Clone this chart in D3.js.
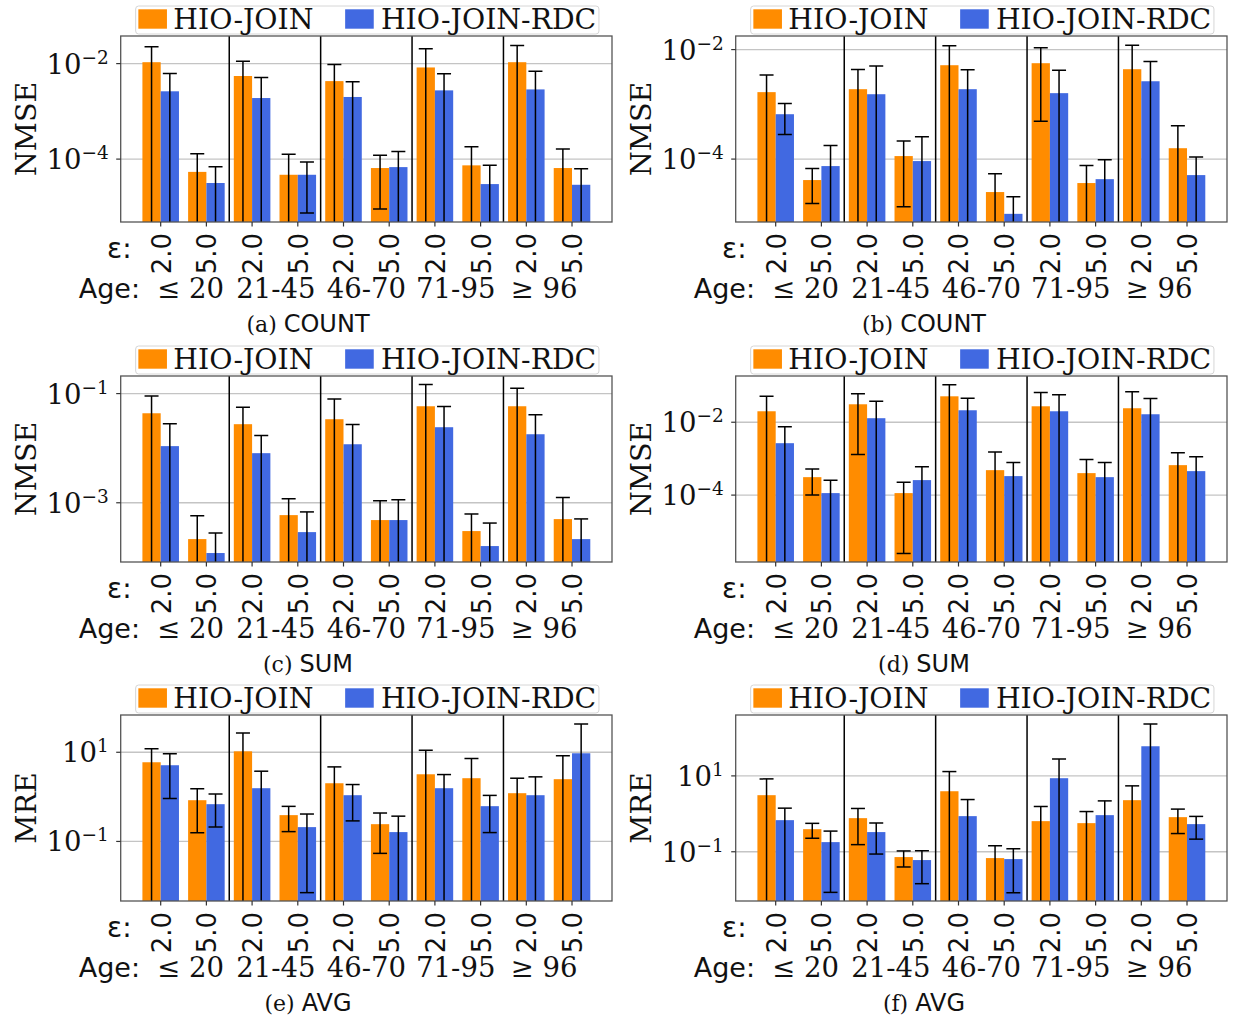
<!DOCTYPE html>
<html>
<head>
<meta charset="utf-8">
<script src="https://cdn.jsdelivr.net/npm/d3@7"></script>
<style>
  body { margin: 0; background: #fff; }
  svg { display: block; }
</style>
</head>
<body>
<svg id="fig" width="1233" height="1021"></svg>
<script>
// ---- categories ----
const ageGroups = ["≤ 20", "21-45", "46-70", "71-95", "≥ 96"];
const epsilons = ["2.0", "5.0"];
const seriesNames = ["HIO-JOIN", "HIO-JOIN-RDC"];

// ---- values: one entry per (age group, epsilon) pair, means and standard deviations ----
// (a) COUNT, NMSE
const joinA    = [1.07e-2, 5.4e-5, 5.5e-3, 4.7e-5, 4.3e-3, 6.5e-5, 8.3e-3, 7.4e-5, 1.07e-2, 6.5e-5];
const joinAStd = [1.19e-2, 7.5e-5, 5.7e-3, 7.9e-5, 5.3e-3, 5.6e-5, 1.21e-2, 1.08e-4, 1.33e-2, 9.8e-5];
const rdcA     = [2.63e-3, 3.16e-5, 1.9e-3, 4.7e-5, 2.0e-3, 6.8e-5, 2.75e-3, 3.0e-5, 2.88e-3, 2.9e-5];
const rdcAStd  = [3.54e-3, 3.76e-5, 3.2e-3, 3.96e-5, 2.17e-3, 7.7e-5, 3.4e-3, 4.4e-5, 4.0e-3, 3.4e-5];
// (b) COUNT, NMSE
const joinB    = [1.67e-3, 4.14e-5, 1.89e-3, 1.135e-4, 5.18e-3, 2.5e-5, 5.64e-3, 3.65e-5, 4.38e-3, 1.58e-4];
const joinBStd = [1.78e-3, 2.6e-5, 2.42e-3, 1.0e-4, 6.6e-3, 2.9e-5, 5.15e-3, 4.0e-5, 7.6e-3, 2.48e-4];
const rdcB     = [6.6e-4, 7.45e-5, 1.53e-3, 9.2e-5, 1.89e-3, 1.0e-5, 1.6e-3, 4.3e-5, 2.64e-3, 5.1e-5];
const rdcBStd  = [3.8e-4, 1.03e-4, 3.5e-3, 1.64e-4, 2.4e-3, 1.05e-5, 2.6e-3, 5.4e-5, 3.4e-3, 5.8e-5];
// (c) SUM, NMSE
const joinC    = [0.0436, 2.16e-4, 0.0275, 5.94e-4, 0.0339, 4.82e-4, 0.0586, 3.03e-4, 0.0586, 5.02e-4];
const joinCStd = [0.047, 3.6e-4, 0.0285, 5.9e-4, 0.046, 6.1e-4, 0.088, 3.2e-4, 0.067, 7.5e-4];
const rdcC     = [0.0109, 1.2e-4, 8.1e-3, 2.9e-4, 0.0118, 4.82e-4, 0.0242, 1.61e-4, 0.018, 2.16e-4];
const rdcCStd  = [0.017, 1.6e-4, 8.9e-3, 3.9e-4, 0.0153, 6.5e-4, 0.034, 2.64e-4, 0.023, 2.9e-4];
// (d) SUM, NMSE
const joinD    = [0.02, 3.11e-4, 0.0311, 1.135e-4, 0.0515, 4.84e-4, 0.0274, 4.01e-4, 0.0242, 6.64e-4];
const joinDStd = [0.0315, 2.1e-4, 0.0298, 1.11e-4, 0.056, 1.05e-3, 0.0376, 5.5e-4, 0.045, 7.8e-4];
const rdcD     = [2.66e-3, 1.135e-4, 0.0129, 2.58e-4, 0.0213, 3.32e-4, 0.02, 3.11e-4, 0.01656, 4.55e-4];
const rdcDStd  = [4.9e-3, 1.44e-4, 0.0247, 3.4e-4, 0.024, 4.5e-4, 0.037, 4.7e-4, 0.028, 6.7e-4];
// (e) AVG, MRE
const joinE    = [5.97, 0.841, 10.5, 0.389, 2.02, 0.244, 3.21, 2.62, 1.208, 2.49];
const joinEStd = [6.1, 0.685, 16.6, 0.223, 2.68, 0.19, 7.9, 4.6, 1.41, 5.9];
const rdcE     = [5.12, 0.685, 1.563, 0.2095, 1.089, 0.162, 1.563, 0.618, 1.089, 9.5];
const rdcEStd  = [4.2, 0.475, 2.2, 0.2024, 0.8, 0.207, 1.6, 0.46, 1.72, 33.5];
// (f) AVG, MRE
const joinF    = [3.1, 0.394, 0.769, 0.0724, 3.94, 0.0681, 0.641, 0.568, 2.29, 0.817];
const joinFStd = [5.24, 0.167, 0.615, 0.0327, 9.06, 0.0758, 0.92, 0.58, 3.17, 0.515];
const rdcF     = [0.681, 0.1795, 0.33, 0.0604, 0.869, 0.0641, 8.69, 0.923, 60.4, 0.535];
const rdcFStd  = [0.73, 0.171, 0.243, 0.046, 1.51, 0.0558, 19.3, 1.27, 173, 0.32];

// ---- axis limits (powers of ten) and labelled decades ----
const yExpA = [-5.317, -1.422], tickExpA = [-4, -2];
const yExpB = [-5.149, -1.752], tickExpB = [-4, -2];
const yExpC = [-4.085, -0.678], tickExpC = [-3, -1];
const yExpD = [-5.836, -0.731], tickExpD = [-4, -2];
const yExpE = [-2.336, 1.836],  tickExpE = [-1, 1];
const yExpF = [-2.298, 2.605],  tickExpF = [-1, 1];

const panels = [
  { tag: "(a)", title: "COUNT", metric: "NMSE", join: joinA, joinStd: joinAStd, rdc: rdcA, rdcStd: rdcAStd, yExp: yExpA, ticks: tickExpA },
  { tag: "(b)", title: "COUNT", metric: "NMSE", join: joinB, joinStd: joinBStd, rdc: rdcB, rdcStd: rdcBStd, yExp: yExpB, ticks: tickExpB },
  { tag: "(c)", title: "SUM",   metric: "NMSE", join: joinC, joinStd: joinCStd, rdc: rdcC, rdcStd: rdcCStd, yExp: yExpC, ticks: tickExpC },
  { tag: "(d)", title: "SUM",   metric: "NMSE", join: joinD, joinStd: joinDStd, rdc: rdcD, rdcStd: rdcDStd, yExp: yExpD, ticks: tickExpD },
  { tag: "(e)", title: "AVG",   metric: "MRE",  join: joinE, joinStd: joinEStd, rdc: rdcE, rdcStd: rdcEStd, yExp: yExpE, ticks: tickExpE },
  { tag: "(f)", title: "AVG",   metric: "MRE",  join: joinF, joinStd: joinFStd, rdc: rdcF, rdcStd: rdcFStd, yExp: yExpF, ticks: tickExpF }
];

// ---- styling ----
const colors = ["#FF8C00", "#4169E1"];
const SERIF = "'DejaVu Serif', serif";
const SANS = "'DejaVu Sans', sans-serif";
const colLeft = [120.7, 735.7];
const colCenter = [308, 924];
const rowTop = [36, 376, 715];
const frameW = 491.3, frameH = 186;
const barW = 0.4;
const ageNudge = [7, 1, 0, -2, -5];   // optical spacing of the age row

const svg = d3.select("#fig");
const toSup = s => s.replace("-", "\u2212");

panels.forEach((p, k) => {
  const col = k % 2, row = Math.floor(k / 2);
  const x0 = colLeft[col], y0 = rowTop[row];
  const x1 = x0 + frameW, y1 = y0 + frameH;
  const cx = (x0 + x1) / 2;

  const x = d3.scaleLinear().domain([-0.875, 9.875]).range([x0, x1]);
  const y = d3.scaleLog().domain([Math.pow(10, p.yExp[0]), Math.pow(10, p.yExp[1])]).range([y1, y0]);
  const g = svg.append("g");

  const clipId = "clip" + k;
  svg.append("defs").append("clipPath").attr("id", clipId)
    .append("rect").attr("x", x0).attr("y", y0).attr("width", frameW).attr("height", frameH);

  // grid at labelled decades
  g.selectAll(".grid").data(p.ticks).enter().append("line")
    .attr("x1", x0).attr("x2", x1)
    .attr("y1", e => y(Math.pow(10, e))).attr("y2", e => y(Math.pow(10, e)))
    .attr("stroke", "#c4c4c4").attr("stroke-width", 1.3);

  const plot = g.append("g").attr("clip-path", `url(#${clipId})`);

  const rows = d3.range(10).map(i => ({ i,
    vals: [
      { s: 0, m: p.join[i], sd: p.joinStd[i] },
      { s: 1, m: p.rdc[i], sd: p.rdcStd[i] }
    ] }));

  const bars = rows.flatMap(r => r.vals.map(v => ({ i: r.i, ...v })));
  const barX = d => x(d.i + (d.s === 0 ? -barW : 0));

  plot.selectAll(".bar").data(bars).enter().append("rect")
    .attr("x", barX)
    .attr("width", d => x(d.i + barW) - x(d.i))
    .attr("y", d => y(d.m))
    .attr("height", d => y1 + 2 - y(d.m))
    .attr("fill", d => colors[d.s]);

  // separators between age groups
  plot.selectAll(".sep").data([1.5, 3.5, 5.5, 7.5]).enter().append("line")
    .attr("x1", d => x(d)).attr("x2", d => x(d))
    .attr("y1", y0).attr("y2", y1)
    .attr("stroke", "#000").attr("stroke-width", 1.5);

  // error bars (mean ± std)
  const ex = d => x(d.i + (d.s === 0 ? -barW / 2 : barW / 2));
  const lowY = d => (d.m - d.sd) > 0 ? y(d.m - d.sd) : y1 + 5;
  const eb = plot.selectAll(".eb").data(bars).enter().append("g");
  eb.append("line")
    .attr("x1", ex).attr("x2", ex)
    .attr("y1", d => y(d.m + d.sd)).attr("y2", lowY)
    .attr("stroke", "#000").attr("stroke-width", 1.5);
  eb.append("line")
    .attr("x1", d => ex(d) - 7).attr("x2", d => ex(d) + 7)
    .attr("y1", d => y(d.m + d.sd)).attr("y2", d => y(d.m + d.sd))
    .attr("stroke", "#000").attr("stroke-width", 1.5);
  eb.filter(d => d.m - d.sd > 0).append("line")
    .attr("x1", d => ex(d) - 7).attr("x2", d => ex(d) + 7)
    .attr("y1", d => y(d.m - d.sd)).attr("y2", d => y(d.m - d.sd))
    .attr("stroke", "#000").attr("stroke-width", 1.5);

  // frame
  g.append("rect").attr("x", x0).attr("y", y0).attr("width", frameW).attr("height", frameH)
    .attr("fill", "none").attr("stroke", "#555").attr("stroke-width", 1.3);

  // y ticks and labels
  p.ticks.forEach(e => {
    const ty = y(Math.pow(10, e));
    g.append("line").attr("x1", x0 - 4.5).attr("x2", x0).attr("y1", ty).attr("y2", ty)
      .attr("stroke", "#333").attr("stroke-width", 1.2);
    const t = g.append("text").attr("x", x0 - 12).attr("y", ty + 10)
      .attr("text-anchor", "end").attr("font-family", SERIF).attr("fill", "#111");
    t.append("tspan").attr("font-size", 27.5).text("10");
    t.append("tspan").attr("font-size", 18.5).attr("dy", -10).text(toSup(String(e)));
  });

  g.append("text")
    .attr("transform", `translate(${x0 - 85},${(y0 + y1) / 2}) rotate(-90)`)
    .attr("text-anchor", "middle").attr("font-family", SERIF).attr("font-size", 28.5)
    .attr("fill", "#111").text(p.metric);

  // x ticks: epsilon per bar pair
  d3.range(10).forEach(i => {
    const tx = x(i);
    g.append("line").attr("x1", tx).attr("x2", tx).attr("y1", y1).attr("y2", y1 + 4.5)
      .attr("stroke", "#333").attr("stroke-width", 1.2);
    g.append("text")
      .attr("transform", `translate(${tx + 10},${y1 + 11}) rotate(-90)`)
      .attr("text-anchor", "end").attr("font-family", SANS).attr("font-size", 26)
      .attr("fill", "#111").text(epsilons[i % 2]);
  });

  g.append("text").attr("x", x0 + 11).attr("y", y1 + 36).attr("text-anchor", "end")
    .attr("font-family", SANS).attr("font-size", 28).attr("fill", "#111").text("ε:");
  g.append("text").attr("x", x0 - 42).attr("y", y1 + 76).attr("text-anchor", "start")
    .attr("font-family", SANS).attr("font-size", 27).attr("fill", "#111").text("Age:");
  ageGroups.forEach((a, j) => {
    g.append("text").attr("x", x(2 * j + 0.5) + ageNudge[j]).attr("y", y1 + 76).attr("text-anchor", "middle")
      .attr("font-family", SERIF).attr("font-size", 27.5).attr("fill", "#111").text(a);
  });

  // sub-caption
  const cap = g.append("text").attr("x", colCenter[col]).attr("y", y1 + 110)
    .attr("text-anchor", "middle").attr("fill", "#111");
  cap.append("tspan").attr("font-family", SERIF).attr("font-size", 22).text(p.tag + " ");
  cap.append("tspan").attr("font-family", SANS).attr("font-size", 24).text(p.title);

  // legend above the panel
  const ly = y0 - 30;
  const lg = g.append("g");
  lg.append("rect").attr("x", cx - 230.7).attr("y", ly).attr("width", 463.3).attr("height", 28)
    .attr("rx", 3).attr("fill", "#fff").attr("fill-opacity", 0.85)
    .attr("stroke", "#d6d6d6").attr("stroke-width", 1);
  const legendPos = [{ px: -228, tx: -193 }, { px: -21.2, tx: 14.6 }];
  seriesNames.forEach((n, s) => {
    lg.append("rect").attr("x", cx + legendPos[s].px).attr("y", ly + 3.3)
      .attr("width", 28.6).attr("height", 19.4).attr("fill", colors[s]);
    lg.append("text").attr("x", cx + legendPos[s].tx).attr("y", ly + 22.5)
      .attr("font-family", SERIF).attr("font-size", 28.3).attr("fill", "#111").text(n);
  });
});
</script>
</body>
</html>
